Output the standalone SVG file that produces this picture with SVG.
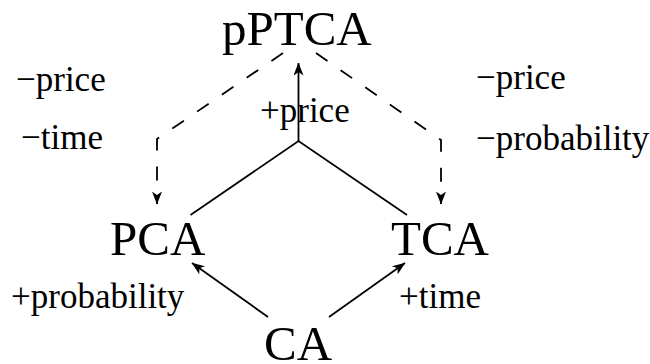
<svg xmlns="http://www.w3.org/2000/svg" width="650" height="364" viewBox="0 0 650 364">
<style>
.node{font-family:"Liberation Serif","Times New Roman",serif;font-size:49px;fill:#000}
.lbl{font-family:"Liberation Serif","Times New Roman",serif;font-size:35px;fill:#000}
.edge{fill:none;stroke:#000;stroke-width:1.8}
.dash{stroke-dasharray:14 16}
</style>
<defs>
<marker id="arr" markerUnits="userSpaceOnUse" viewBox="0 0 13 10" refX="12.5" refY="5" markerWidth="13" markerHeight="10" orient="auto">
<path d="M0,0 L13,5 L0,10 L3.5,5 Z" fill="#000"/>
</marker>
</defs>
<rect width="650" height="364" fill="#fff"/>
<g id="connectors">
<path class="edge" d="M298.5,141 L298.5,63" marker-end="url(#arr)"/>
<path class="edge" d="M190.5,215 L298.5,141 L407,215"/>
<path class="edge" d="M268,317 L192,263" marker-end="url(#arr)"/>
<path class="edge" d="M329,317 L405,263" marker-end="url(#arr)"/>
<path class="edge dash" d="M283,53 L157,139 L157,204" marker-end="url(#arr)"/>
<path class="edge dash" d="M316,53 L441,140 L441,204" marker-end="url(#arr)"/>
</g>
<g id="labels">
<text class="lbl" x="16" y="91">−price</text>
<text class="lbl" x="21" y="149">−time</text>
<text class="lbl" x="476" y="89">−price</text>
<text class="lbl" x="476" y="150">−probability</text>
<text class="lbl" x="260" y="122">+price</text>
<text class="lbl" x="11" y="308">+probability</text>
<text class="lbl" x="399" y="308">+time</text>
</g>
<g id="pPTCA"><text class="node" x="222" y="45">pPTCA</text></g>
<g id="PCA"><text class="node" x="110" y="255">PCA</text></g>
<g id="TCA"><text class="node" x="391" y="255">TCA</text></g>
<g id="CA"><text class="node" x="264" y="360">CA</text></g>
</svg>
